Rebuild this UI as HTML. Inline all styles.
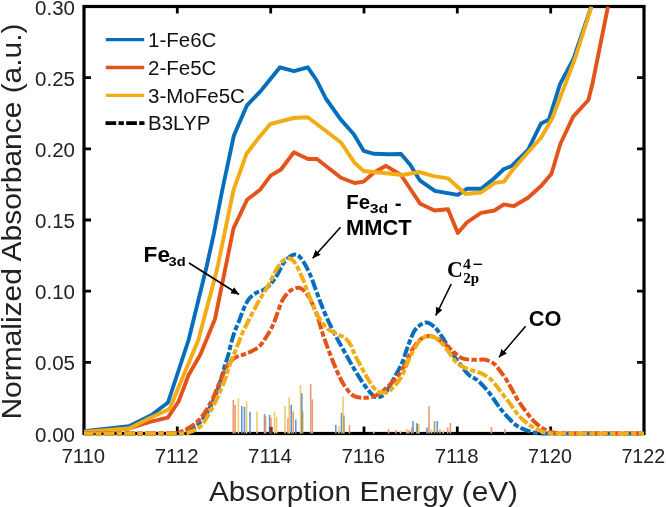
<!DOCTYPE html><html><head><meta charset="utf-8"><style>html,body{margin:0;padding:0;background:#fff;width:666px;height:507px;overflow:hidden}svg{display:block;filter:blur(0.35px)}text{font-family:"Liberation Sans",sans-serif}</style></head><body>
<svg width="666" height="507" viewBox="0 0 666 507">
<rect width="666" height="507" fill="#fff"/>
<defs><clipPath id="pc"><rect x="84.0" y="6.5" width="560.0" height="430.0"/></clipPath></defs>
<rect x="84.0" y="6.5" width="560.0" height="427.0" fill="none" stroke="#000" stroke-width="3.2"/>
<path d="M177.3,6.5V13.5M177.3,433.5V426.5M270.7,6.5V13.5M270.7,433.5V426.5M364.0,6.5V13.5M364.0,433.5V426.5M457.3,6.5V13.5M457.3,433.5V426.5M550.7,6.5V13.5M550.7,433.5V426.5M84.0,362.3H91.0M644.0,362.3H637.0M84.0,291.2H91.0M644.0,291.2H637.0M84.0,220.0H91.0M644.0,220.0H637.0M84.0,148.8H91.0M644.0,148.8H637.0M84.0,77.7H91.0M644.0,77.7H637.0" stroke="#000" stroke-width="2.8" fill="none"/>
<g clip-path="url(#pc)">
<line x1="233.3" y1="433.5" x2="233.3" y2="400.0" stroke="#EE9872" stroke-width="1.6"/>
<line x1="235.1" y1="433.5" x2="235.1" y2="404.8" stroke="#EE9872" stroke-width="1.6"/>
<line x1="238.4" y1="433.5" x2="238.4" y2="398.2" stroke="#F2CB68" stroke-width="1.6"/>
<line x1="241.8" y1="433.5" x2="241.8" y2="406.0" stroke="#5E98D2" stroke-width="1.6"/>
<line x1="244.5" y1="433.5" x2="244.5" y2="406.8" stroke="#5E98D2" stroke-width="1.6"/>
<line x1="246.6" y1="433.5" x2="246.6" y2="401.2" stroke="#F2CB68" stroke-width="1.6"/>
<line x1="250.0" y1="433.5" x2="250.0" y2="411.7" stroke="#5E98D2" stroke-width="1.6"/>
<line x1="257.0" y1="433.5" x2="257.0" y2="411.5" stroke="#F2CB68" stroke-width="1.6"/>
<line x1="264.5" y1="433.5" x2="264.5" y2="414.0" stroke="#9A8FB0" stroke-width="1.6"/>
<line x1="265.6" y1="433.5" x2="265.6" y2="416.0" stroke="#EE9872" stroke-width="1.6"/>
<line x1="269.6" y1="433.5" x2="269.6" y2="415.0" stroke="#5E98D2" stroke-width="1.6"/>
<line x1="271.0" y1="433.5" x2="271.0" y2="417.6" stroke="#EE9872" stroke-width="1.6"/>
<line x1="274.6" y1="433.5" x2="274.6" y2="411.5" stroke="#F2CB68" stroke-width="1.6"/>
<line x1="276.6" y1="433.5" x2="276.6" y2="417.0" stroke="#F2CB68" stroke-width="1.6"/>
<line x1="285.0" y1="433.5" x2="285.0" y2="406.0" stroke="#F2CB68" stroke-width="1.6"/>
<line x1="288.0" y1="433.5" x2="288.0" y2="418.0" stroke="#EE9872" stroke-width="1.6"/>
<line x1="289.2" y1="433.5" x2="289.2" y2="397.3" stroke="#F2CB68" stroke-width="1.6"/>
<line x1="291.2" y1="433.5" x2="291.2" y2="404.7" stroke="#5E98D2" stroke-width="1.6"/>
<line x1="293.2" y1="433.5" x2="293.2" y2="411.5" stroke="#EE9872" stroke-width="1.6"/>
<line x1="295.8" y1="433.5" x2="295.8" y2="419.6" stroke="#5E98D2" stroke-width="1.6"/>
<line x1="300.5" y1="433.5" x2="300.5" y2="385.0" stroke="#F2CB68" stroke-width="1.6"/>
<line x1="301.8" y1="433.5" x2="301.8" y2="393.2" stroke="#5E98D2" stroke-width="1.6"/>
<line x1="302.6" y1="433.5" x2="302.6" y2="411.5" stroke="#A8A050" stroke-width="1.6"/>
<line x1="310.7" y1="433.5" x2="310.7" y2="384.2" stroke="#EE9872" stroke-width="1.6"/>
<line x1="312.3" y1="433.5" x2="312.3" y2="399.3" stroke="#EE9872" stroke-width="1.6"/>
<line x1="335.8" y1="433.5" x2="335.8" y2="425.0" stroke="#5E98D2" stroke-width="1.6"/>
<line x1="339.0" y1="433.5" x2="339.0" y2="426.4" stroke="#F2CB68" stroke-width="1.6"/>
<line x1="341.5" y1="433.5" x2="341.5" y2="412.8" stroke="#5E98D2" stroke-width="1.6"/>
<line x1="343.1" y1="433.5" x2="343.1" y2="396.6" stroke="#F2CB68" stroke-width="1.6"/>
<line x1="344.0" y1="433.5" x2="344.0" y2="415.5" stroke="#A8A050" stroke-width="1.6"/>
<line x1="349.5" y1="433.5" x2="349.5" y2="425.3" stroke="#EE9872" stroke-width="1.6"/>
<line x1="373.8" y1="433.5" x2="373.8" y2="431.0" stroke="#F2CB68" stroke-width="1.6"/>
<line x1="388.6" y1="433.5" x2="388.6" y2="429.0" stroke="#EE9872" stroke-width="1.6"/>
<line x1="395.8" y1="433.5" x2="395.8" y2="430.0" stroke="#EE9872" stroke-width="1.6"/>
<line x1="400.5" y1="433.5" x2="400.5" y2="430.5" stroke="#F2CB68" stroke-width="1.6"/>
<line x1="407.0" y1="433.5" x2="407.0" y2="429.0" stroke="#F2CB68" stroke-width="1.6"/>
<line x1="409.0" y1="433.5" x2="409.0" y2="430.5" stroke="#EE9872" stroke-width="1.6"/>
<line x1="411.7" y1="433.5" x2="411.7" y2="427.4" stroke="#EE9872" stroke-width="1.6"/>
<line x1="413.0" y1="433.5" x2="413.0" y2="421.0" stroke="#5E98D2" stroke-width="1.6"/>
<line x1="416.7" y1="433.5" x2="416.7" y2="423.0" stroke="#A8A050" stroke-width="1.6"/>
<line x1="417.8" y1="433.5" x2="417.8" y2="424.0" stroke="#5E98D2" stroke-width="1.6"/>
<line x1="418.9" y1="433.5" x2="418.9" y2="424.7" stroke="#F2CB68" stroke-width="1.6"/>
<line x1="427.0" y1="433.5" x2="427.0" y2="427.4" stroke="#5E98D2" stroke-width="1.6"/>
<line x1="429.0" y1="433.5" x2="429.0" y2="406.2" stroke="#EE9872" stroke-width="1.6"/>
<line x1="431.5" y1="433.5" x2="431.5" y2="429.5" stroke="#F2CB68" stroke-width="1.6"/>
<line x1="434.5" y1="433.5" x2="434.5" y2="421.0" stroke="#A8A050" stroke-width="1.6"/>
<line x1="437.3" y1="433.5" x2="437.3" y2="421.0" stroke="#5E98D2" stroke-width="1.6"/>
<line x1="440.0" y1="433.5" x2="440.0" y2="429.5" stroke="#EE9872" stroke-width="1.6"/>
<line x1="443.2" y1="433.5" x2="443.2" y2="430.0" stroke="#F2CB68" stroke-width="1.6"/>
<line x1="447.7" y1="433.5" x2="447.7" y2="427.4" stroke="#EE9872" stroke-width="1.6"/>
<line x1="450.4" y1="433.5" x2="450.4" y2="423.0" stroke="#EE9872" stroke-width="1.6"/>
<line x1="491.4" y1="433.5" x2="491.4" y2="427.0" stroke="#EE9872" stroke-width="1.6"/>
<line x1="504.9" y1="433.5" x2="504.9" y2="429.0" stroke="#EE9872" stroke-width="1.6"/>
<rect x="269.3" y="427" width="3.4" height="6" fill="#6B3C28"/>
<polyline points="84.0,431.3 129.0,426.3 151.6,415.0 168.0,402.5 188.6,340.0 207.0,265.0 213.9,233.3 222.3,190.0 233.8,135.8 247.0,105.3 261.3,90.3 280.0,67.3 293.9,71.2 307.8,67.3 316.8,80.5 325.8,98.5 340.8,119.6 353.8,134.3 363.6,150.8 374.0,153.8 389.0,154.3 401.0,154.0 410.0,164.5 419.8,180.3 434.8,190.8 457.8,194.8 466.8,188.8 481.0,188.8 494.0,178.5 504.0,169.0 511.8,166.0 528.0,150.0 540.8,123.8 549.0,119.4 560.0,84.2 573.5,59.0 591.3,6.5" fill="none" stroke="#066EBC" stroke-width="3.9" stroke-linejoin="round"/>
<polyline points="84.0,432.0 129.0,428.5 150.0,421.8 167.8,417.7 178.6,401.5 188.5,375.3 200.5,354.3 215.0,319.0 233.5,228.3 247.0,199.8 260.0,189.8 270.6,175.6 281.0,169.5 293.8,152.3 308.0,159.0 317.0,159.0 341.0,177.8 354.6,183.0 363.6,181.6 374.0,172.5 386.0,165.8 401.0,175.0 420.3,203.8 434.5,210.5 448.0,209.3 457.8,233.0 466.8,222.5 481.0,212.8 494.4,210.5 504.0,204.4 513.6,206.2 528.0,197.8 541.3,185.8 551.5,173.8 560.3,144.0 573.2,116.6 588.4,100.0 592.5,83.5 608.0,6.5" fill="none" stroke="#E4541A" stroke-width="3.9" stroke-linejoin="round"/>
<polyline points="84.0,432.0 129.0,428.5 150.0,418.0 169.5,409.0 198.3,340.0 213.5,283.0 218.0,265.0 233.5,190.0 246.5,153.8 258.6,138.0 270.3,124.0 293.6,118.0 307.8,117.3 341.0,142.5 354.6,162.8 363.6,171.0 389.0,173.5 402.5,175.0 419.0,172.0 432.6,175.8 448.0,178.3 465.5,194.0 481.0,192.5 495.0,182.8 504.0,181.6 511.8,171.0 528.0,152.3 540.8,138.0 552.4,118.0 574.5,60.0 591.5,6.5" fill="none" stroke="#F2AC15" stroke-width="3.9" stroke-linejoin="round"/>
<path d="M84.0,433.5 C98.7,433.5 155.3,433.7 172.0,433.5 C188.7,433.3 180.2,433.4 184.0,432.3 C187.8,431.2 191.5,429.7 195.0,427.0 C198.5,424.3 202.0,420.3 205.0,416.0 C208.0,411.7 210.7,406.0 213.0,401.0 C215.3,396.0 217.2,391.4 219.0,386.0 C220.8,380.6 222.5,373.7 224.0,368.6 C225.5,363.5 226.9,359.6 228.1,355.5 C229.3,351.4 229.9,347.6 231.0,343.7 C232.1,339.8 233.2,335.8 234.6,331.8 C236.0,327.9 237.8,324.0 239.4,320.0 C241.0,316.0 242.3,311.6 244.0,308.0 C245.7,304.4 247.4,300.8 249.5,298.3 C251.6,295.8 254.1,294.2 256.4,292.8 C258.7,291.4 261.0,291.4 263.3,290.0 C265.6,288.6 267.9,287.0 270.2,284.5 C272.5,282.0 274.9,278.6 277.2,274.9 C279.5,271.2 281.4,265.8 284.0,262.4 C286.6,259.0 290.2,255.6 293.0,254.8 C295.8,254.0 297.8,254.7 300.6,257.8 C303.4,260.9 306.9,267.6 309.6,273.5 C312.3,279.4 315.0,287.8 317.0,293.0 C319.0,298.2 319.7,300.5 321.5,305.0 C323.3,309.5 325.4,314.8 327.8,320.0 C330.2,325.2 333.4,331.5 336.0,336.5 C338.6,341.5 341.0,345.5 343.5,350.0 C346.0,354.5 348.7,359.5 351.0,363.6 C353.3,367.7 354.9,370.4 357.5,374.5 C360.1,378.6 363.5,384.2 366.5,388.0 C369.5,391.8 372.6,396.0 375.6,397.0 C378.6,398.0 381.6,397.0 384.6,394.0 C387.6,391.0 390.7,384.2 393.6,379.0 C396.5,373.8 399.6,368.5 402.0,363.0 C404.4,357.5 405.8,351.5 408.0,346.0 C410.2,340.5 412.1,333.9 415.0,330.0 C417.9,326.1 422.2,323.0 425.5,322.5 C428.8,322.0 431.5,324.2 434.5,327.0 C437.5,329.8 440.5,334.5 443.5,339.0 C446.5,343.5 449.5,349.5 452.5,354.0 C455.5,358.5 458.8,362.5 461.5,366.0 C464.2,369.5 466.2,372.5 469.0,375.0 C471.8,377.5 475.1,378.1 478.4,381.0 C481.7,383.9 485.9,388.8 489.0,392.6 C492.1,396.5 495.1,401.2 497.1,404.1 C499.2,407.0 499.6,407.6 501.3,409.7 C503.1,411.8 505.3,414.6 507.6,417.0 C509.9,419.4 512.5,422.5 515.0,424.4 C517.5,426.3 519.7,427.4 522.3,428.6 C524.9,429.8 528.0,431.0 530.8,431.8 C533.6,432.6 535.7,433.0 539.2,433.3 C542.7,433.6 541.9,433.5 552.0,433.5 C562.1,433.5 584.7,433.5 600.0,433.5 C615.3,433.5 636.7,433.5 644.0,433.5" fill="none" stroke="#066EBC" stroke-width="4" stroke-dasharray="10.7 2.3 5.4 2.3" stroke-dashoffset="1"/>
<path d="M84.0,433.5 C98.0,433.5 152.0,433.8 168.0,433.5 C184.0,433.2 176.4,433.0 180.0,432.0 C183.6,431.0 186.1,429.8 189.5,427.5 C192.9,425.2 196.8,422.9 200.5,418.5 C204.2,414.1 208.7,406.4 211.6,401.0 C214.5,395.6 216.3,390.0 218.0,386.0 C219.7,382.0 220.6,380.1 222.0,377.0 C223.4,373.9 224.7,370.2 226.3,367.4 C227.9,364.6 229.9,362.1 231.7,360.3 C233.5,358.5 234.9,357.7 237.0,356.7 C239.1,355.7 241.5,355.4 244.1,354.4 C246.7,353.4 249.7,352.4 252.4,350.8 C255.2,349.2 257.7,348.2 260.6,345.0 C263.5,341.8 267.2,335.7 269.6,331.5 C272.0,327.3 272.9,325.1 275.0,320.0 C277.1,314.9 279.5,305.8 282.0,301.0 C284.5,296.2 287.3,293.2 290.0,291.0 C292.7,288.8 295.8,287.7 298.3,287.8 C300.8,287.9 302.9,289.3 305.0,291.5 C307.1,293.7 309.0,297.1 311.0,301.0 C313.0,304.9 315.1,309.7 317.0,315.0 C318.9,320.3 320.6,327.2 322.5,333.0 C324.4,338.8 326.2,343.8 328.5,350.0 C330.8,356.2 333.9,364.2 336.5,370.0 C339.1,375.8 341.2,380.8 344.0,385.0 C346.8,389.2 349.8,393.4 353.0,395.5 C356.2,397.6 360.0,397.7 363.5,397.8 C367.0,397.9 370.5,397.7 374.0,396.3 C377.5,394.9 380.8,392.6 384.6,389.5 C388.4,386.4 393.2,381.6 396.6,377.5 C400.0,373.4 402.4,369.6 405.0,365.0 C407.6,360.4 409.3,354.3 412.0,350.0 C414.7,345.7 418.0,341.3 421.0,339.0 C424.0,336.7 426.8,335.8 430.0,336.0 C433.2,336.2 437.0,338.2 440.5,340.5 C444.0,342.8 447.5,346.6 451.0,349.5 C454.5,352.4 458.0,356.3 461.5,358.0 C465.0,359.7 468.2,359.5 472.0,359.8 C475.8,360.1 481.0,359.3 484.0,359.6 C487.0,359.9 488.1,360.6 489.9,361.4 C491.7,362.2 493.1,362.8 494.9,364.5 C496.7,366.2 498.7,369.0 500.7,371.7 C502.7,374.4 505.2,377.8 507.0,380.7 C508.8,383.6 509.8,385.8 511.5,388.8 C513.2,391.8 515.2,395.7 517.0,398.7 C518.8,401.7 520.4,403.9 522.3,406.6 C524.2,409.3 526.5,412.4 528.6,415.0 C530.7,417.6 532.7,420.1 535.0,422.3 C537.3,424.5 539.7,426.5 542.3,428.1 C544.9,429.7 548.1,430.9 550.7,431.8 C553.3,432.7 554.8,433.0 558.0,433.3 C561.2,433.6 561.3,433.5 570.0,433.5 C578.7,433.5 597.7,433.5 610.0,433.5 C622.3,433.5 638.3,433.5 644.0,433.5" fill="none" stroke="#E4541A" stroke-width="4" stroke-dasharray="10.7 2.3 5.4 2.3" stroke-dashoffset="1"/>
<path d="M84.0,433.5 C99.3,433.5 158.7,433.6 176.0,433.5 C193.3,433.4 183.9,433.9 188.0,432.7 C192.1,431.5 196.8,429.8 200.5,426.3 C204.2,422.9 207.1,417.0 210.0,412.0 C212.9,407.0 215.5,401.8 218.0,396.3 C220.5,390.8 223.3,384.0 225.1,379.2 C226.9,374.4 227.3,371.3 228.7,367.4 C230.1,363.4 231.8,359.4 233.4,355.5 C235.0,351.6 236.6,347.6 238.2,343.7 C239.8,339.8 241.1,335.8 242.9,331.8 C244.7,327.9 246.8,324.0 248.8,320.0 C250.8,316.0 252.8,312.1 255.0,308.0 C257.2,303.9 259.7,299.5 262.0,295.6 C264.3,291.7 266.6,288.6 268.9,284.5 C271.2,280.4 273.5,274.6 275.8,270.7 C278.1,266.8 280.3,263.0 282.7,261.0 C285.1,259.0 287.8,257.9 290.0,258.5 C292.2,259.1 293.7,260.8 296.0,264.5 C298.3,268.2 301.1,275.0 303.6,281.0 C306.1,287.0 308.5,294.6 311.0,300.6 C313.5,306.6 315.9,312.4 318.6,317.0 C321.3,321.6 324.1,325.6 327.0,328.3 C329.9,331.1 333.0,331.9 336.0,333.5 C339.0,335.1 342.5,336.0 345.0,338.0 C347.5,340.0 349.3,342.7 351.0,345.5 C352.7,348.3 352.8,350.6 355.0,355.0 C357.2,359.4 360.9,366.6 364.0,372.0 C367.1,377.4 370.6,384.0 373.5,387.5 C376.4,391.0 378.6,392.5 381.5,392.8 C384.4,393.1 387.8,392.1 391.0,389.5 C394.2,386.9 397.8,382.9 401.0,377.5 C404.2,372.1 406.9,363.1 410.0,357.0 C413.1,350.9 416.4,344.5 419.5,341.0 C422.6,337.5 425.2,336.1 428.5,336.0 C431.8,335.9 435.8,338.0 439.0,340.5 C442.2,343.0 445.0,347.2 448.0,351.0 C451.0,354.8 453.7,360.0 457.0,363.0 C460.3,366.0 464.0,367.5 467.6,369.0 C471.2,370.5 475.1,370.9 478.4,372.2 C481.7,373.5 484.8,375.2 487.2,376.7 C489.6,378.2 490.8,379.3 492.6,381.2 C494.4,383.1 496.2,385.6 498.0,387.9 C499.8,390.2 501.4,392.6 503.4,395.1 C505.3,397.7 507.4,400.1 509.7,403.2 C512.0,406.2 514.7,410.6 517.0,413.4 C519.3,416.2 520.9,418.0 523.4,420.2 C525.9,422.4 529.0,424.7 531.8,426.5 C534.6,428.3 537.4,429.7 540.2,430.8 C543.0,431.9 545.3,432.8 548.6,433.2 C551.9,433.6 551.4,433.4 560.0,433.5 C568.6,433.6 586.0,433.5 600.0,433.5 C614.0,433.5 636.7,433.5 644.0,433.5" fill="none" stroke="#F2AC15" stroke-width="4" stroke-dasharray="10.7 2.3 5.4 2.3" stroke-dashoffset="1"/>
</g>
<text x="75" y="441.5" font-size="20.5" text-anchor="end" fill="#222">0.00</text>
<text x="75" y="370.3" font-size="20.5" text-anchor="end" fill="#222">0.05</text>
<text x="75" y="299.2" font-size="20.5" text-anchor="end" fill="#222">0.10</text>
<text x="75" y="228.0" font-size="20.5" text-anchor="end" fill="#222">0.15</text>
<text x="75" y="156.8" font-size="20.5" text-anchor="end" fill="#222">0.20</text>
<text x="75" y="85.7" font-size="20.5" text-anchor="end" fill="#222">0.25</text>
<text x="75" y="14.5" font-size="20.5" text-anchor="end" fill="#222">0.30</text>
<text x="83.3" y="463" font-size="20.5" text-anchor="middle" textLength="43.8" lengthAdjust="spacingAndGlyphs" fill="#222">7110</text>
<text x="176.6" y="463" font-size="20.5" text-anchor="middle" textLength="43.8" lengthAdjust="spacingAndGlyphs" fill="#222">7112</text>
<text x="270.0" y="463" font-size="20.5" text-anchor="middle" textLength="43.8" lengthAdjust="spacingAndGlyphs" fill="#222">7114</text>
<text x="363.3" y="463" font-size="20.5" text-anchor="middle" textLength="43.8" lengthAdjust="spacingAndGlyphs" fill="#222">7116</text>
<text x="456.6" y="463" font-size="20.5" text-anchor="middle" textLength="43.8" lengthAdjust="spacingAndGlyphs" fill="#222">7118</text>
<text x="550.0" y="463" font-size="20.5" text-anchor="middle" textLength="43.8" lengthAdjust="spacingAndGlyphs" fill="#222">7120</text>
<text x="643.3" y="463" font-size="20.5" text-anchor="middle" textLength="43.8" lengthAdjust="spacingAndGlyphs" fill="#222">7122</text>
<text x="209" y="500.6" font-size="28.5" textLength="309" lengthAdjust="spacingAndGlyphs" fill="#222">Absorption Energy (eV)</text>
<text transform="translate(21.2,419.5) rotate(-90)" x="0" y="0" font-size="28.5" textLength="396" lengthAdjust="spacingAndGlyphs" fill="#222">Normalized Absorbance (a.u.)</text>
<line x1="105.8" y1="39.7" x2="144.2" y2="39.7" stroke="#066EBC" stroke-width="3.3"/>
<text x="148" y="47.0" font-size="20.5" fill="#111">1-Fe6C</text>
<line x1="105.8" y1="67.5" x2="144.2" y2="67.5" stroke="#E4541A" stroke-width="3.3"/>
<text x="148" y="74.8" font-size="20.5" fill="#111">2-Fe5C</text>
<line x1="105.8" y1="95.3" x2="144.2" y2="95.3" stroke="#F2AC15" stroke-width="3.3"/>
<text x="148" y="102.6" font-size="20.5" fill="#111">3-MoFe5C</text>
<line x1="105.5" y1="123.1" x2="144.5" y2="123.1" stroke="#000" stroke-width="3.6" stroke-dasharray="10.7 2.3 5.4 2.3"/>
<text x="148" y="130.4" font-size="20.5" fill="#111">B3LYP</text>
<defs><marker id="ah" markerWidth="9" markerHeight="8" refX="8" refY="3.6" orient="auto" markerUnits="userSpaceOnUse"><path d="M0,0 L8.2,3.6 L0,7.2 z" fill="#000"/></marker></defs>
<line x1="189.0" y1="263.0" x2="239.0" y2="294.5" stroke="#000" stroke-width="1.6" marker-end="url(#ah)"/>
<line x1="340.5" y1="227.3" x2="312.7" y2="258.2" stroke="#000" stroke-width="1.6" marker-end="url(#ah)"/>
<line x1="451.2" y1="284.0" x2="435.8" y2="315.5" stroke="#000" stroke-width="1.6" marker-end="url(#ah)"/>
<line x1="525.6" y1="326.3" x2="499.0" y2="357.3" stroke="#000" stroke-width="1.6" marker-end="url(#ah)"/>
<text transform='translate(143.60,262.30) scale(1.0543,1)' style="font-family:'Liberation Sans';font-weight:bold;font-size:21.43px" fill='#000'>Fe</text>
<text transform='translate(168.50,265.90) scale(1.1000,1)' style="font-family:'Liberation Sans';font-weight:bold;font-size:13.30px" fill='#000'>3d</text>
<text transform='translate(346.32,208.70) scale(0.9826,1)' style="font-family:'Liberation Sans';font-weight:bold;font-size:20.74px" fill='#000'>Fe</text>
<text transform='translate(369.63,212.60) scale(1.1714,1)' style="font-family:'Liberation Sans';font-weight:bold;font-size:13.50px" fill='#000'>3d</text>
<text transform='translate(394.80,209.60) scale(1.0000,1)' style="font-family:'Liberation Sans';font-weight:bold;font-size:20.50px" fill='#000'>-</text>
<text transform='translate(346.1,234.70) scale(0.9785,1)' style="font-family:'Liberation Sans';font-weight:bold;font-size:22.30px" fill='#000'>MMCT</text>
<text transform='translate(528.8,325.8) scale(0.955,1)' style="font-family:'Liberation Sans';font-weight:bold;font-size:22.8px" fill='#000'>CO</text>
<text transform='translate(446.9,277.4) scale(0.93,1)' style="font-family:'Liberation Serif';font-weight:bold;font-size:23.5px" fill='#000'>C</text>
<text transform='translate(463.0,268.5) scale(1.08,1)' style="font-family:'Liberation Serif';font-weight:bold;font-size:14.5px" fill='#000'>4</text>
<text transform='translate(463.3,282.6) scale(1.0,1)' style="font-family:'Liberation Serif';font-weight:bold;font-size:15px" fill='#000'>2p</text>
<rect x="473.5" y="263.6" width="8.6" height="1.4" fill="#000"/>
</svg></body></html>
